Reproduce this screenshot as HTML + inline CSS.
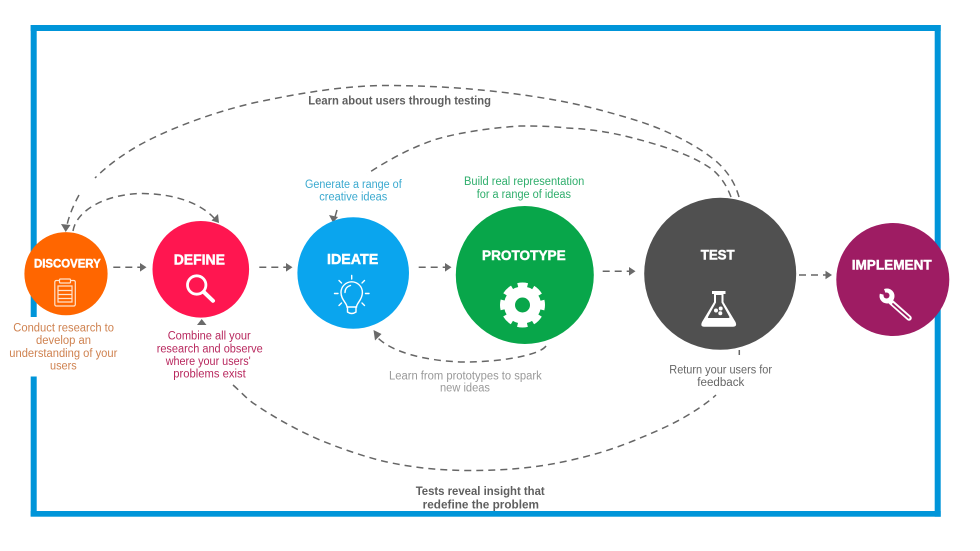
<!DOCTYPE html>
<html lang="en">
<head>
<meta charset="utf-8">
<title>Design thinking process</title>
<style>
html,body{margin:0;padding:0;background:#fff;width:980px;height:551px;overflow:hidden}
svg{display:block}
text{font-family:"Liberation Sans",sans-serif}
.t{font-size:11.5px}
.b{font-size:11.5px;font-weight:bold;fill:#5f5f5f}
.n{font-weight:bold;fill:#fff;stroke:#fff;stroke-width:.45}
.d{fill:none;stroke:#666;stroke-width:1.5;stroke-dasharray:7 5}
.a{fill:#6a6a6a}
</style>
</head>
<body>
<svg width="980" height="551" viewBox="0 0 980 551" xmlns="http://www.w3.org/2000/svg">
<rect width="980" height="551" fill="#fff"/>
<!-- frame -->
<g fill="#0095d9">
<rect x="30.7" y="25" width="910" height="6"/>
<rect x="30.7" y="511" width="910" height="5.7"/>
<rect x="934.7" y="25" width="6" height="491.7"/>
<rect x="30.7" y="25" width="6" height="292"/>
<rect x="30.7" y="376.5" width="6" height="140"/>
</g>

<!-- connectors -->
<path class="d" d="M739 197C735 183 728 172 717 162C703 150 685 140 667 132C645 122 622 116 600 110C560 99 480 85.500 387 85.500C345 85.500 300 93 253 103C215 112 180 125 153 138C128 150 108 165 95 178"/>
<path class="d" d="M79 195C73 206 69 216 67 225"/>
<polygon class="a" points="65.700,232 61,224 70.500,225"/>
<path class="d" d="M731 197C727 186 721 177 713 170C693 155 660 145 633 138C610 132 590 129 567 128C550 126 535 126 520 126C490 128 462 132 437 139C412 147 388 160 367 174"/>
<path class="d" d="M337 210L335 217"/>
<polygon class="a" points="333,222.500 329,215 338,217"/>
<path class="d" d="M73 231C77 208 110 193.500 143 193.500C175 194 200 203 214 218"/>
<polygon class="a" points="219,223 211.500,220.500 218,214"/>
<path class="d" d="M233 385C240 391 246 398 253 403C275 418 297 430 320 440C342 449 365 457 387 462C415 468 442 470.500 470 470.500C505 470.500 535 468 567 461C590 456 611 450 633 441C650 434 667 427 683 418C695 411 706 404 716 395"/>
<path fill="none" stroke="#666" stroke-width="1.500" d="M739.300 350V355"/>
<polygon class="a" points="201.700,319 197,325 206.500,325"/>
<path class="d" d="M546 346C538 357 490 362.500 463 362C425 361 392 352 378 338"/>
<polygon class="a" points="373.500,330 381.500,334 375,340.500"/>
<g>
<path class="d" d="M113.300 267.300H141"/><polygon class="a" points="146.500,267.300 140,263 140,271.600"/>
<path class="d" d="M259.300 267.300H287"/><polygon class="a" points="292.500,267.300 286,263 286,271.600"/>
<path class="d" d="M418.700 267.300H446"/><polygon class="a" points="451.500,267.300 445,263 445,271.600"/>
<path class="d" d="M602.700 271.300H630"/><polygon class="a" points="635.500,271.300 629,267 629,275.600"/>
<path class="d" d="M799 275H827"/><polygon class="a" points="832,275 825.500,270.700 825.500,279.300"/>
</g>

<!-- circles -->
<circle cx="66" cy="273.700" r="41.600" fill="#ff6600"/>
<circle cx="200.800" cy="269.300" r="48.300" fill="#ff1650"/>
<circle cx="353.200" cy="273" r="55.800" fill="#0aa5ee"/>
<circle cx="524.800" cy="275" r="69" fill="#08a64a"/>
<circle cx="720.200" cy="273.800" r="76" fill="#505050"/>
<circle cx="892.800" cy="279.500" r="56.500" fill="#9e1c63"/>

<!-- node labels -->
<text class="n" font-size="11.500" x="34" y="267.300" textLength="66.700" lengthAdjust="spacingAndGlyphs">DISCOVERY</text>
<text class="n" font-size="14.500" x="173.700" y="264.700" textLength="51.300" lengthAdjust="spacingAndGlyphs">DEFINE</text>
<text class="n" font-size="14.500" x="327" y="264" textLength="51.300" lengthAdjust="spacingAndGlyphs">IDEATE</text>
<text class="n" font-size="14" x="482" y="260" textLength="83.700" lengthAdjust="spacingAndGlyphs">PROTOTYPE</text>
<text class="n" font-size="14" x="700.700" y="259.300" textLength="34" lengthAdjust="spacingAndGlyphs">TEST</text>
<text class="n" font-size="14" x="851.700" y="269.300" textLength="80" lengthAdjust="spacingAndGlyphs">IMPLEMENT</text>

<!-- clipboard icon -->
<g fill="none" stroke="#ffe3cc" stroke-width="1.200">
<rect x="54.800" y="280.500" width="20.500" height="25.500" rx="1.500"/>
<rect x="59.500" y="279" width="11" height="4" rx="1" fill="#ff6600"/>
<path d="M58 286H72V302H58Z"/>
<path d="M58 290.500H72M58 294.500H72M58 298.500H72"/>
</g>

<!-- magnifier icon -->
<circle cx="196.700" cy="285" r="9.200" fill="none" stroke="#fff" stroke-width="2.800"/>
<path d="M203.800 292L213 300.800" stroke="#fff" stroke-width="4" stroke-linecap="round"/>

<!-- bulb icon -->
<g fill="none" stroke="#fff" stroke-width="1.400" stroke-linecap="round">
<path d="M347 307C347 303 341 300 341 292.500A10.700 10.700 0 1 1 362.400 292.500C362.400 300 356.500 303 356.500 307Z"/>
<path d="M347.500 307V312Q351.700 315 356 312V307"/>
<path d="M345 292.500C345 289 347 286.500 350.500 285.500"/>
<path d="M351.700 275.500V279M339 280.500L341.500 283M364.500 280.500L362 283M334.500 293.500H338M365.500 293.500H369M339 305.500L341.500 303M364.500 305.500L362 303"/>
</g>

<!-- gear icon -->
<g fill="none" stroke="#fff">
<circle cx="522.500" cy="305" r="13" stroke-width="11"/>
<circle cx="522.500" cy="305" r="19.500" stroke-width="6" stroke-dasharray="9.500 5.815" stroke-dashoffset="4.750"/>
</g>

<!-- flask icon -->
<path fill="#fff" d="M712 291H725.500V294H723.500V302L735.500 322Q737.500 326.700 733 326.700H704Q700 326.700 702 322L714 302V294H712Z"/>
<path fill="#505050" d="M716 295H721.500V302.500L729.500 317Q729.500 318 728 318H709Q707.500 318 708 317L716 302.500Z"/>
<circle cx="716" cy="310.500" r="2" fill="#fff"/><circle cx="720.700" cy="308.500" r="2" fill="#fff"/><circle cx="720.300" cy="313.300" r="2" fill="#fff"/>

<!-- wrench icon -->
<circle cx="887" cy="296" r="7.500" fill="#fff"/>
<circle cx="886.500" cy="295.500" r="3" fill="#9e1c63"/>
<polygon points="886.500,295.500 877.500,293 883,286.500" fill="#9e1c63"/>
<path fill="none" stroke="#fff" stroke-width="5.500" stroke-linecap="round" d="M891 302L909 318"/>
<path fill="none" stroke="#9e1c63" stroke-width="1.800" stroke-linecap="round" d="M893 304L908.800 317.800"/>

<!-- descriptions -->
<g class="t" fill="#cf8250">
<text class="t" x="13.300" y="331.500" textLength="100.700" lengthAdjust="spacingAndGlyphs">Conduct research to</text>
<text class="t" x="36" y="344" textLength="55" lengthAdjust="spacingAndGlyphs">develop an</text>
<text class="t" x="9.300" y="357" textLength="108" lengthAdjust="spacingAndGlyphs">understanding of your</text>
<text class="t" x="50" y="369.500" textLength="26.700" lengthAdjust="spacingAndGlyphs">users</text>
</g>
<g class="t" fill="#b8285e">
<text class="t" x="167.700" y="339.300" textLength="83" lengthAdjust="spacingAndGlyphs">Combine all your</text>
<text class="t" x="156.700" y="352.300" textLength="106" lengthAdjust="spacingAndGlyphs">research and observe</text>
<text class="t" x="165.700" y="365" textLength="85" lengthAdjust="spacingAndGlyphs">where your users'</text>
<text class="t" x="173.300" y="377.300" textLength="72.400" lengthAdjust="spacingAndGlyphs">problems exist</text>
</g>
<g class="t" fill="#3aa9cf">
<text class="t" x="305" y="188" textLength="96.700" lengthAdjust="spacingAndGlyphs">Generate a range of</text>
<text class="t" x="319.300" y="200.700" textLength="68" lengthAdjust="spacingAndGlyphs">creative ideas</text>
</g>
<g class="t" fill="#2fae6c">
<text class="t" x="464" y="185" textLength="120.300" lengthAdjust="spacingAndGlyphs">Build real representation</text>
<text class="t" x="476.700" y="198" textLength="94.300" lengthAdjust="spacingAndGlyphs">for a range of ideas</text>
</g>
<g class="t" fill="#999">
<text class="t" x="389" y="379.300" textLength="152.700" lengthAdjust="spacingAndGlyphs">Learn from prototypes to spark</text>
<text class="t" x="440" y="391.700" textLength="50" lengthAdjust="spacingAndGlyphs">new ideas</text>
</g>
<g class="t" fill="#666">
<text class="t" x="669.300" y="373.300" textLength="102.700" lengthAdjust="spacingAndGlyphs">Return your users for</text>
<text class="t" x="697.300" y="386" textLength="47" lengthAdjust="spacingAndGlyphs">feedback</text>
</g>
<text class="b" x="308.300" y="104.300" textLength="182.700" lengthAdjust="spacingAndGlyphs">Learn about users through testing</text>
<text class="b" x="415.700" y="495" textLength="129" lengthAdjust="spacingAndGlyphs">Tests reveal insight that</text>
<text class="b" x="422.700" y="508.700" textLength="116.300" lengthAdjust="spacingAndGlyphs">redefine the problem</text>
</svg>
</body>
</html>
